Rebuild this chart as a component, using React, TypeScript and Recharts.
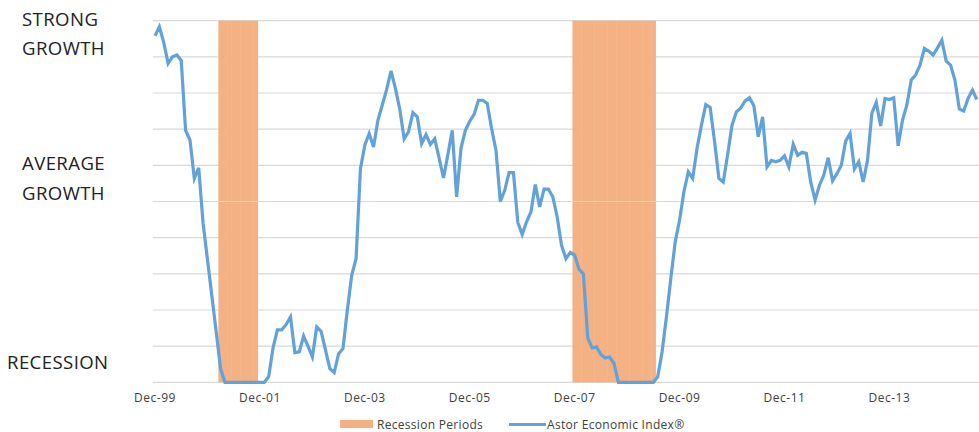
import React from "react";
import {
  ComposedChart,
  Bar,
  Line,
  XAxis,
  YAxis,
  CartesianGrid,
  Legend,
  ReferenceLine,
} from "recharts";

// Monthly index values starting Dec-99, one row per year (Dec..Nov)
const ASTOR_INDEX = [
  9.58, 9.83, 9.4, 8.82, 9.0, 9.05, 8.9, 6.97, 6.7, 5.64, 5.93, 4.4,
  3.4, 2.4, 1.4, 0.38, 0, 0, 0, 0, 0, 0, 0, 0,
  0, 0, 0.15, 0.95, 1.45, 1.45, 1.6, 1.81, 0.82, 0.84, 1.28, 1.0,
  0.7, 1.53, 1.41, 0.9, 0.38, 0.27, 0.79, 0.93, 2.0, 2.96, 3.42, 5.91,
  6.56, 6.88, 6.51, 7.25, 7.67, 8.1, 8.61, 8.13, 7.55, 6.73, 6.93, 7.46,
  7.34, 6.6, 6.85, 6.58, 6.73, 6.2, 5.65, 6.3, 6.97, 5.13, 6.47, 6.97,
  7.22, 7.41, 7.8, 7.8, 7.71, 7.02, 6.42, 5.0, 5.31, 5.8, 5.8, 4.42,
  4.09, 4.44, 4.71, 5.47, 4.85, 5.34, 5.34, 5.13, 4.58, 3.79, 3.42, 3.59,
  3.51, 3.13, 3.0, 1.23, 0.95, 0.98, 0.77, 0.67, 0.7, 0.52, 0, 0,
  0, 0, 0, 0, 0, 0, 0, 0.15, 0.84, 1.81, 2.87, 3.88,
  4.48, 5.27, 5.82, 5.64, 6.47, 7.11, 7.68, 7.6, 6.67, 5.64, 5.54, 6.3,
  7.11, 7.48, 7.59, 7.78, 7.87, 7.65, 6.79, 7.34, 5.96, 6.14, 6.1, 6.14,
  6.26, 5.96, 6.58, 6.28, 6.36, 6.33, 5.54, 5.04, 5.45, 5.73, 6.21, 5.57,
  5.77, 6.0, 6.67, 6.88, 5.9, 6.1, 5.54, 6.14, 7.45, 7.74, 7.09, 7.85,
  7.82, 7.87, 6.54, 7.25, 7.67, 8.36, 8.5, 8.77, 9.23, 9.16, 9.05, 9.25,
  9.46, 8.88, 8.77, 8.35, 7.56, 7.5, 7.85, 8.08, 7.82,
];

const MONTHS = ["Jan", "Feb", "Mar", "Apr", "May", "Jun", "Jul", "Aug", "Sep", "Oct", "Nov", "Dec"];
const START_YEAR = 1999;
const START_MONTH = 11; // Dec

const TICK_LABELS = ["Dec-99", "Dec-01", "Dec-03", "Dec-05", "Dec-07", "Dec-09", "Dec-11", "Dec-13"];
const RECESSION_PERIODS = [
  ["Mar-01", "Nov-01"],
  ["Dec-07", "Jun-09"],
];
const RECESSION_LEVEL = 10;
const Y_TICKS = [0, 1, 2, 3, 4, 5, 6, 7, 8, 9, 10];
const Y_LABELS: Record<number, string[]> = {
  10: ["STRONG", "GROWTH"],
  5: ["AVERAGE", "GROWTH"],
  0: ["RECESSION"],
};

const FONT = "'Open Sans', sans-serif";
const BLUE = "#62A2DA";
const ORANGE = "#F4B183";

const months = ASTOR_INDEX.map((_, i) => {
  const m = START_MONTH + i;
  const yr = (START_YEAR + Math.floor(m / 12)) % 100;
  return `${MONTHS[m % 12]}-${String(yr).padStart(2, "0")}`;
});

const recessionRanges = RECESSION_PERIODS.map(([a, b]) => [months.indexOf(a), months.indexOf(b)]);

const data = months.map((month, i) => ({
  month,
  astor: ASTOR_INDEX[i],
  recession: recessionRanges.some(([a, b]) => i >= a && i <= b) ? RECESSION_LEVEL : null,
}));

const YTick = (props: any) => {
  const { y, payload } = props;
  const lines = Y_LABELS[payload.value];
  if (!lines) return <g />;
  // label placement relative to its tick
  let startX = 22;
  let firstDy = 5;
  if (payload.value === 5) firstDy = -31.5;
  if (payload.value === 0) {
    startX = 7;
    firstDy = -13;
  }
  return (
    <g>
      {lines.map((t, k) => (
        <text
          key={t + k}
          x={startX}
          y={y + firstDy + k * 29.5}
          fill="#222"
          fontSize={18.6}
          letterSpacing={0.4}
          fontFamily={FONT}
        >
          {t}
        </text>
      ))}
    </g>
  );
};

// adjacent monthly bars overlap slightly so no seams show between them
const RecessionBar = (props: any) => {
  const { x, y, width, height, fill } = props;
  if (!height) return <g />;
  return <rect x={x} y={y} width={width + 0.8} height={height} fill={fill} />;
};

const renderLegend = (props: any) => {
  const items = [...(props.payload || [])].sort(
    (a: any, b: any) => (a.type === "rect" ? 0 : 1) - (b.type === "rect" ? 0 : 1)
  );
  return (
    <div
      style={{
        height: 20,
        display: "flex",
        alignItems: "center",
        paddingLeft: 340,
        fontFamily: FONT,
        fontSize: 12,
        letterSpacing: 0.3,
        color: "#404040",
        boxSizing: "border-box",
      }}
    >
      {items.map((entry: any) => (
        <div key={entry.value} style={{ display: "flex", alignItems: "center", marginRight: 26, marginTop: 4 }}>
          {entry.type === "rect" ? (
            <span style={{ width: 33, height: 8, background: entry.color, marginRight: 4 }} />
          ) : (
            <span style={{ width: 37, height: 3, background: entry.color, marginRight: 1 }} />
          )}
          <span>{entry.value}</span>
        </div>
      ))}
    </div>
  );
};

export default function App() {
  return (
    <div style={{ position: "absolute", left: 0, top: 0, background: "#fff" }}>
      <ComposedChart
        width={979}
        height={432}
        data={data}
        barCategoryGap={0}
        barGap={0}
        margin={{ top: 20.7, right: 0, left: 0, bottom: 0 }}
      >
        <CartesianGrid horizontal vertical={false} stroke="#D9D9D9" strokeWidth={1.2} />
        <XAxis
          dataKey="month"
          ticks={TICK_LABELS}
          interval={0}
          axisLine={false}
          tickLine={false}
          tickMargin={5}
          height={29.7}
          tick={{ fontSize: 12, fill: "#404040", fontFamily: FONT, letterSpacing: 0.5 }}
        />
        <YAxis
          domain={[0, 10]}
          ticks={Y_TICKS}
          width={152.8}
          axisLine={false}
          tickLine={false}
          tick={(p: any) => <YTick {...p} />}
        />
        <Legend verticalAlign="bottom" content={renderLegend} />
        <Bar
          dataKey="recession"
          name="Recession Periods"
          fill={ORANGE}
          shape={(p: any) => <RecessionBar {...p} />}
          legendType="rect"
          isAnimationActive={false}
        />
        <ReferenceLine y={5} stroke="#D9D9D9" strokeWidth={1.2} />
        <Line
          dataKey="astor"
          name="Astor Economic Index®"
          type="linear"
          stroke={BLUE}
          strokeWidth={3.2}
          dot={false}
          activeDot={false}
          legendType="plainline"
          isAnimationActive={false}
        />
      </ComposedChart>
    </div>
  );
}
